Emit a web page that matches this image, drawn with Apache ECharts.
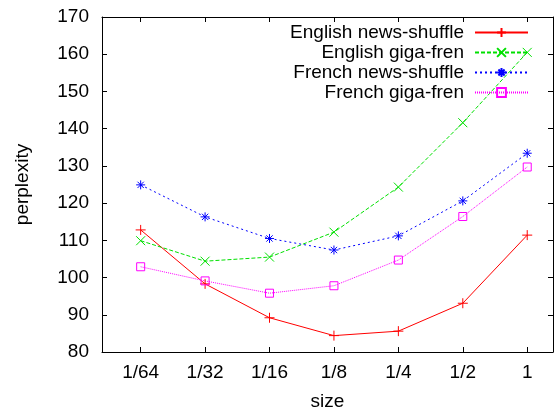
<!DOCTYPE html>
<html>
<head>
<meta charset="utf-8">
<script src="https://cdn.jsdelivr.net/npm/echarts@6/dist/echarts.min.js"></script>
<style>
  html, body { margin: 0; padding: 0; background: #fff; }
  #chart { width: 557px; height: 409px; }
</style>
</head>
<body>
<div id="chart"></div>
<script>
// sizes on the x axis, one slot each
var sizes = ['1/64', '1/32', '1/16', '1/8', '1/4', '1/2', '1'];
var yTicks = [80, 90, 100, 110, 120, 130, 140, 150, 160, 170];

// perplexity
var enNews = [112.8, 98.3, 89.2, 84.4, 85.6, 93.1, 111.4];
var enGiga = [109.9, 104.4, 105.5, 112.2, 124.3, 141.6, 160.5];
var frNews = [124.9, 116.3, 110.5, 107.4, 111.2, 120.6, 133.4];
var frGiga = [102.9, 99.1, 95.8, 97.8, 104.7, 116.4, 129.7];

var FONT = 'Liberation Sans';
var FS = 19;
var plus = 'path://M0,5L10,5M5,0L5,10';
var cross = 'path://M0,0L10,10M10,0L0,10';
var star = 'path://M0,5L10,5M5,0L5,10M1.5,1.5L8.5,8.5M8.5,1.5L1.5,8.5';

function pts(vals) {
    var out = [];
    for (var i = 0; i < vals.length; i++) out.push([i, vals[i]]);
    return out;
}

function mkSeries(name, vals, color, dash, symbol, size) {
    return {
        name: name,
        type: 'line',
        data: pts(vals),
        symbol: symbol,
        symbolSize: size,
        showAllSymbol: true,
        lineStyle: { color: color, width: 1, type: dash },
        itemStyle: { color: 'none', borderColor: color, borderWidth: 1 },
        emphasis: { disabled: true },
        animation: false,
        z: 3
    };
}

var idx = [0, 1, 2, 3, 4, 5, 6];
var tickStyle = { color: '#000', width: 1 };

var chart = echarts.init(document.getElementById('chart'), null, { renderer: 'canvas' });
chart.setOption({
    backgroundColor: '#fff',
    animation: false,
    textStyle: { fontFamily: FONT, color: '#000' },
    grid: { left: 102, top: 17, right: 4, bottom: 57, containLabel: false, outerBoundsMode: 'none' },
    legend: {
        orient: 'vertical',
        right: 28,
        top: 23,
        padding: 0,
        align: 'right',
        itemWidth: 53,
        itemHeight: 11,
        itemGap: 1,
        textStyle: { fontFamily: FONT, fontSize: FS, color: '#000', padding: [0, 6, 0, 0] },
        data: ['English news-shuffle', 'English giga-fren', 'French news-shuffle', 'French giga-fren']
    },
    xAxis: [{
        type: 'value',
        min: -0.6,
        max: 6.4,
        name: 'size',
        nameLocation: 'middle',
        nameGap: 40,
        nameTextStyle: { fontFamily: FONT, fontSize: FS, color: '#000' },
        axisLine: { onZero: false, lineStyle: { color: '#000', width: 1 } },
        axisTick: { inside: true, length: 5, customValues: idx, lineStyle: tickStyle },
        axisLabel: {
            customValues: idx, margin: 11, fontFamily: FONT, fontSize: FS, color: '#000',
            formatter: function (v) { return sizes[Math.round(v)]; }
        },
        splitLine: { show: false }
    }, {
        type: 'value',
        position: 'top',
        min: -0.6,
        max: 6.4,
        axisLine: { show: true, onZero: false, lineStyle: { color: '#000', width: 1 } },
        axisTick: { inside: true, length: 5, customValues: idx, lineStyle: tickStyle },
        axisLabel: { show: false },
        splitLine: { show: false }
    }],
    yAxis: [{
        type: 'value',
        min: yTicks[0],
        max: yTicks[yTicks.length - 1],
        interval: 10,
        name: 'perplexity',
        nameLocation: 'middle',
        nameGap: 70,
        nameTextStyle: { fontFamily: FONT, fontSize: FS, color: '#000' },
        axisLine: { show: true, onZero: false, lineStyle: { color: '#000', width: 1 } },
        axisTick: { show: true, inside: true, length: 5, lineStyle: tickStyle },
        axisLabel: { margin: 13, fontFamily: FONT, fontSize: FS, color: '#000' },
        splitLine: { show: false }
    }, {
        type: 'value',
        position: 'right',
        min: yTicks[0],
        max: yTicks[yTicks.length - 1],
        interval: 10,
        axisLine: { show: true, onZero: false, lineStyle: { color: '#000', width: 1 } },
        axisTick: { show: true, inside: true, length: 5, lineStyle: tickStyle },
        axisLabel: { show: false },
        splitLine: { show: false }
    }],
    series: [
        mkSeries('English news-shuffle', enNews, '#ff0000', 'solid', plus, 10),
        mkSeries('English giga-fren', enGiga, '#00e000', [4, 2], cross, 9),
        mkSeries('French news-shuffle', frNews, '#0000ff', [2, 3], star, 9),
        mkSeries('French giga-fren', frGiga, '#ff00ff', [1, 1], 'rect', 8)
    ]
});
</script>
</body>
</html>
